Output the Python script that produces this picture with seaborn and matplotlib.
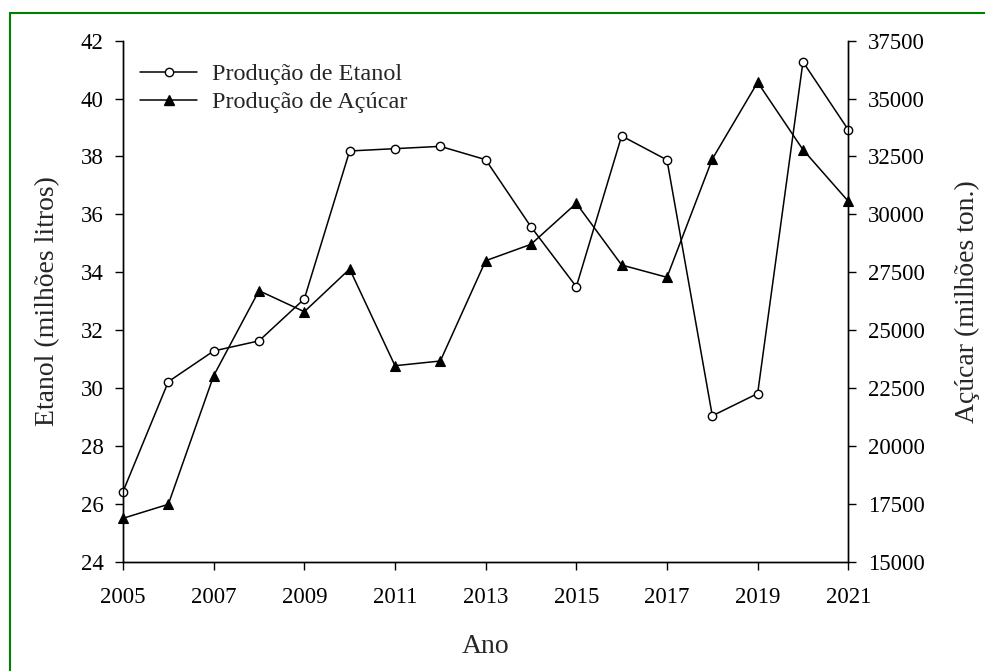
import matplotlib
matplotlib.use("Agg")
import matplotlib.pyplot as plt
import seaborn as sns
import pandas as pd
from matplotlib.lines import Line2D

years = list(range(2005, 2022))
etanol = [26.42, 30.22, 31.28, 31.63, 33.08, 38.19, 38.27, 38.35, 37.89, 35.57,
          33.50, 38.71, 37.88, 29.04, 29.81, 41.27, 38.92]
acucar = [16874, 17479, 23032, 26703, 25796, 27640, 23464, 23667, 27999, 28707,
          30477, 27813, 27282, 32391, 35703, 32792, 30564]
xticks = list(range(2005, 2022, 2))
yticks_left = list(range(24, 43, 2))
yticks_right = list(range(15000, 37501, 2500))

label_et = "Produção de Etanol"
label_ac = "Produção de Açúcar"

df = pd.DataFrame({"Ano": years, "Etanol": etanol, "Acucar": acucar})

sns.set_theme(style="ticks")
plt.rcParams["font.family"] = ["Liberation Serif", "DejaVu Serif"]

W, H = 985, 671
fig = plt.figure(figsize=(W / 100, H / 100), dpi=100)
ax = fig.add_axes([123 / W, 1 - 561.7 / H, (848.3 - 123) / W, (561.7 - 40.7) / H])
ax2 = ax.twinx()

lw = 1.1
sns.lineplot(data=df, x="Ano", y="Etanol", ax=ax, color="black", linewidth=lw,
             marker="o", markersize=6, markerfacecolor="white",
             markeredgecolor="black", markeredgewidth=1.0, clip_on=False, zorder=3)
sns.lineplot(data=df, x="Ano", y="Acucar", ax=ax2, color="black", linewidth=lw,
             marker="^", markersize=7, markerfacecolor="black",
             markeredgecolor="black", markeredgewidth=0.8, clip_on=False, zorder=3)

fs_tick = 16.5
fs_label = 20

ax.set_xlim(2005, 2021)
ax.set_ylim(24, 42)
ax2.set_ylim(15000, 37500)
ax.set_xticks(xticks)
ax.set_yticks(yticks_left)
ax2.set_yticks(yticks_right)

for a in (ax, ax2):
    a.spines["top"].set_visible(False)
    for s in a.spines.values():
        s.set_linewidth(1.0)
        s.set_color("black")
    a.tick_params(direction="out", length=6, width=1.0, colors="black",
                  labelsize=fs_tick, pad=8)
ax.tick_params(axis="x", pad=12)
ax.spines["right"].set_visible(True)
ax2.spines["left"].set_visible(True)

ax.set_xlabel("Ano", fontsize=fs_label, va="center")
ax.xaxis.set_label_coords(0.5, -0.162)
ax.set_ylabel("Etanol (milhões litros)", fontsize=fs_label, va="center")
ax.yaxis.set_label_coords(-0.104, 0.5)
ax2.set_ylabel("Açúcar (milhões ton.)", fontsize=fs_label, va="center", rotation=90)
ax2.yaxis.set_label_coords(1.164, 0.5)

handles = [
    Line2D([], [], color="black", linewidth=lw, marker="o", markersize=6,
           markerfacecolor="white", markeredgecolor="black", markeredgewidth=1.0),
    Line2D([], [], color="black", linewidth=lw, marker="^", markersize=7,
           markerfacecolor="black", markeredgecolor="black"),
]
leg = ax.legend(handles, [label_et, label_ac], loc="upper left",
                bbox_to_anchor=((140 - 123) / 725.3, 1 - (63 - 40.7) / 521),
                frameon=False, fontsize=17.5, handlelength=2.35,
                handletextpad=0.6, labelspacing=0.25, borderpad=0,
                borderaxespad=0, numpoints=1)

# green border lines (top and left)
fig.add_artist(Line2D([10 / W, 1.0], [1 - 12.5 / H, 1 - 12.5 / H],
                      transform=fig.transFigure, color="#008000", linewidth=1.5))
fig.add_artist(Line2D([10 / W, 10 / W], [0.0, 1 - 12.5 / H],
                      transform=fig.transFigure, color="#008000", linewidth=1.5))

fig.savefig("out.png", dpi=100, facecolor="white")
